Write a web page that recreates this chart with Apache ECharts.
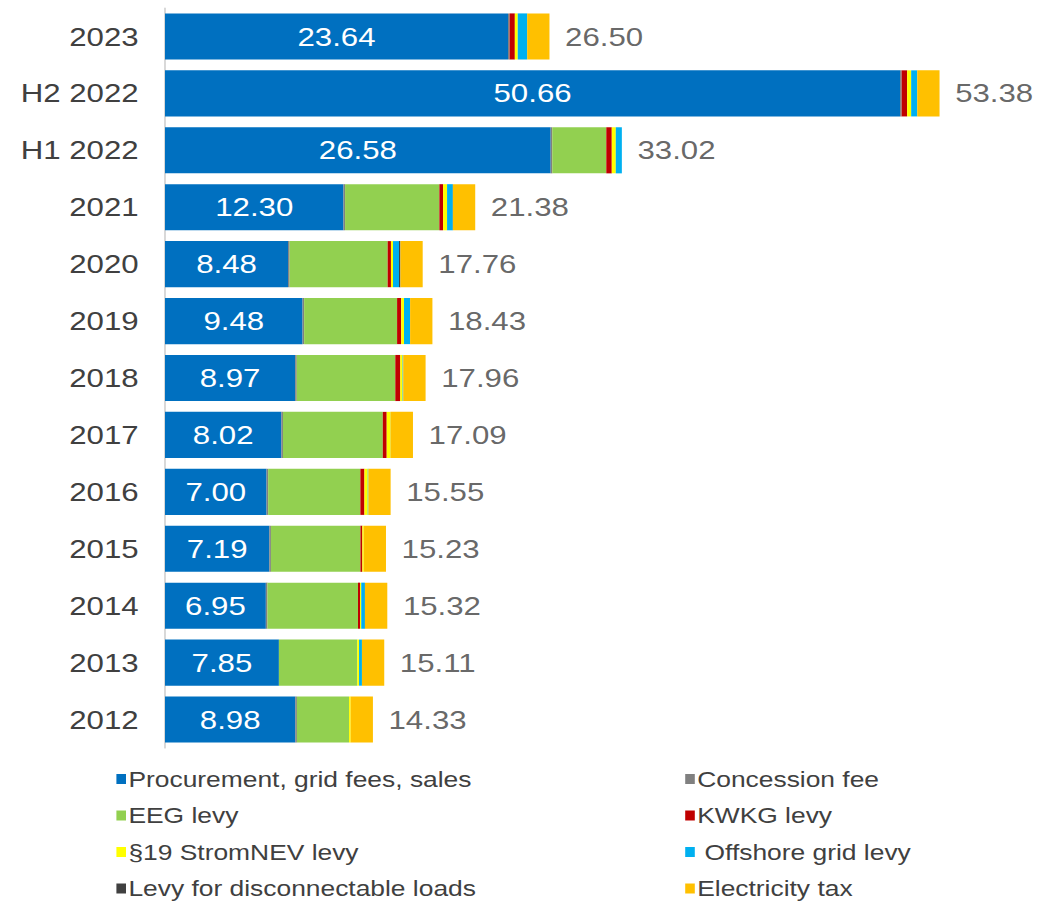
<!DOCTYPE html>
<html>
<head>
<meta charset="utf-8">
<title>Electricity price components</title>
<script src="https://cdn.jsdelivr.net/npm/echarts@6/dist/echarts.min.js"></script>
<style>
  html, body { margin: 0; padding: 0; background: #ffffff; overflow: hidden; }
  /* the drawing is laid out 1.2x narrower and widened back, which gives the wide lettering */
  #chart { width: 866px; height: 904px; transform: scaleX(1.2); transform-origin: 0 0; }
</style>
</head>
<body>
<div id="chart"></div>
<script>
// Periods, top to bottom
const categories = ['2023', 'H2 2022', 'H1 2022', '2021', '2020', '2019', '2018', '2017', '2016', '2015', '2014', '2013', '2012'];

// Price components in ct/kWh
const procurement    = [23.64, 50.66, 26.58, 12.30, 8.48, 9.48, 8.97, 8.02, 7.00, 7.19, 6.95, 7.85, 8.98];
const concession     = [0.11, 0.11, 0.11, 0.11, 0.11, 0.11, 0.11, 0.11, 0.11, 0.11, 0.11, 0, 0.11];
const eeg            = [0, 0, 3.723, 6.5, 6.756, 6.405, 6.792, 6.88, 6.354, 6.17, 6.24, 5.40, 3.592];
const kwkg           = [0.36, 0.378, 0.378, 0.254, 0.226, 0.28, 0.345, 0.27, 0.28, 0.13, 0.14, 0, 0.002];
const stromNev19     = [0.20, 0.276, 0.276, 0.275, 0.14, 0.197, 0.158, 0.267, 0.229, 0.093, 0.084, 0.123, 0.109];
const offshore       = [0.65, 0.419, 0.419, 0.395, 0.416, 0.416, 0.037, 0, 0.04, 0, 0.25, 0.20, 0];
const disconnectable = [0, 0, 0, 0.009, 0.095, 0.005, 0.011, 0.006, 0, 0, 0.009, 0, 0];
const electricityTax = [1.537, 1.537, 0, 1.537, 1.537, 1.537, 1.537, 1.537, 1.537, 1.537, 1.537, 1.537, 1.537];

// Stated totals per period
const totals = ['26.50', '53.38', '33.02', '21.38', '17.76', '18.43', '17.96', '17.09', '15.55', '15.23', '15.32', '15.11', '14.33'];

const components = [
  { name: 'Procurement, grid fees, sales', data: procurement, color: '#0070C0' },
  { name: 'Concession fee', data: concession, color: '#808080' },
  { name: 'EEG levy', data: eeg, color: '#92D050' },
  { name: 'KWKG levy', data: kwkg, color: '#C00000' },
  { name: '§19 StromNEV levy', data: stromNev19, color: '#FFFF00' },
  { name: ' Offshore grid levy', data: offshore, color: '#00B0F0' },
  { name: 'Levy for disconnectable loads', data: disconnectable, color: '#404040' },
  { name: 'Electricity tax', data: electricityTax, color: '#FFC000' }
];

const FONT = '"Liberation Sans", Arial, sans-serif';
const TEXT = '#404040';

const barSeries = components.map((c, i) => ({
  name: c.name,
  type: 'bar',
  stack: 'price',
  barCategoryGap: '19%',
  data: c.data,
  itemStyle: { color: c.color },
  emphasis: { disabled: true },
  label: i === 0 ? {
    show: true,
    position: 'inside',
    color: '#ffffff',
    fontFamily: FONT,
    fontSize: 26,
    formatter: p => p.value.toFixed(2)
  } : { show: false }
}));

// End of each drawn stack, used to anchor the total labels
const stackEnds = categories.map((_, i) =>
  components.reduce((s, c) => s + c.data[i], 0));

const totalSeries = {
  name: 'total',
  type: 'scatter',
  symbolSize: 0,
  silent: true,
  data: stackEnds.map((v, i) => [v, i]),
  label: {
    show: true,
    position: 'right',
    distance: 13,
    color: TEXT,
    fontFamily: FONT,
    fontSize: 26,
    formatter: p => totals[p.dataIndex]
  }
};

const legendCommon = {
  orient: 'vertical',
  top: 768,
  height: 200,
  itemWidth: 8,
  itemHeight: 10,
  itemGap: 14.5,
  padding: 0,
  icon: 'rect',
  selectedMode: false,
  textStyle: { color: TEXT, fontFamily: FONT, fontSize: 22, lineHeight: 20, padding: [0, 0, 0, -3] }
};

const chart = echarts.init(document.getElementById('chart'), null, { renderer: 'svg' });
chart.setOption({
  animation: false,
  backgroundColor: '#ffffff',
  grid: { left: 137.5, right: 3, top: 8, height: 740, containLabel: false },
  xAxis: {
    type: 'value',
    min: 0,
    max: 60,
    show: false
  },
  yAxis: {
    type: 'category',
    data: categories,
    inverse: true,
    axisLine: { show: true, lineStyle: { color: '#BFBFBF', width: 1 } },
    axisTick: { show: false },
    axisLabel: { color: TEXT, fontFamily: FONT, fontSize: 26, margin: 22 }
  },
  legend: [
    Object.assign({}, legendCommon, {
      left: 97,
      data: [components[0].name, components[2].name, components[4].name, components[6].name]
    }),
    Object.assign({}, legendCommon, {
      left: 571,
      data: [components[1].name, components[3].name, components[5].name, components[7].name]
    })
  ],
  series: barSeries.concat([totalSeries])
});
</script>
</body>
</html>
